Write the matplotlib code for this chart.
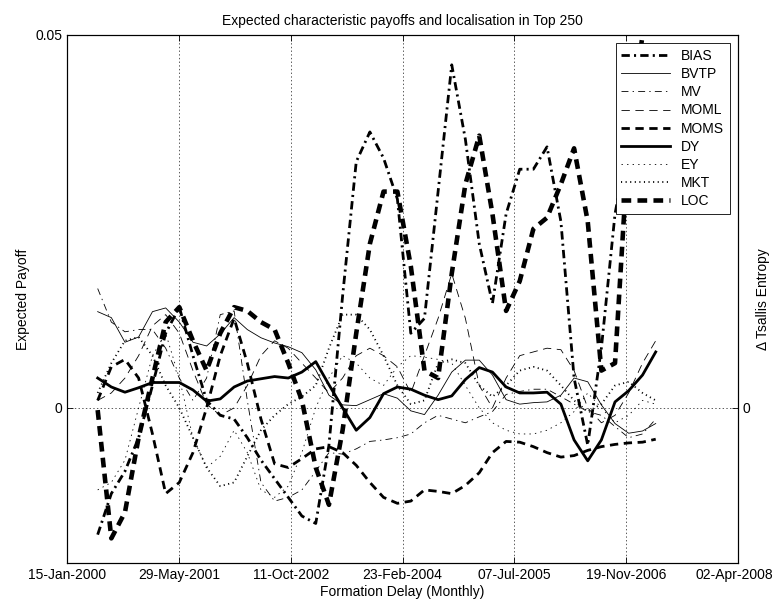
import datetime as dt
import numpy as np
import pandas as pd
import matplotlib
matplotlib.use("Agg")
import matplotlib.pyplot as plt
import matplotlib.dates as mdates
import matplotlib.transforms as mtransforms

plt.rcParams['font.family'] = ['Liberation Sans', 'DejaVu Sans']
plt.rcParams['lines.scale_dashes'] = False

# bimonthly formation dates, May 2000 .. Mar 2007
dates = pd.date_range("2000-05-31", periods=42, freq="2ME")

bias = [-0.0170, -0.0115, -0.0085, -0.0040, 0.0030, 0.0100, 0.0135, 0.0070, 0.0010, -0.0010,
        -0.0015, -0.0040, -0.0070, -0.0095, -0.0120, -0.0145, -0.0155, -0.0050, 0.0150, 0.0330,
        0.0370, 0.0335, 0.0280, 0.0100, 0.0120, 0.0290, 0.0460, 0.0360, 0.0220, 0.0140,
        0.0260, 0.0320, 0.0320, 0.0350, 0.0250, 0.0040, -0.0050, 0.0080, 0.0260, 0.0360,
        0.0400, 0.0380]
bvtp = [0.0129, 0.0121, 0.0088, 0.0095, 0.0129, 0.0134, 0.0115, 0.0088, 0.0083, 0.0099,
        0.0121, 0.0105, 0.0094, 0.0087, 0.0082, 0.0074, 0.0051, 0.0017, 0.0004, 0.0003,
        0.0011, 0.0019, 0.0013, -0.0004, -0.0009, 0.0017, 0.0048, 0.0064, 0.0064, 0.0044,
        0.0011, 0.0005, 0.0007, 0.0008, 0.0017, 0.0040, 0.0035, 0.0004, -0.0021, -0.0034,
        -0.0031, -0.0021]
mv = [0.0160, 0.0115, 0.0102, 0.0105, 0.0105, 0.0080, 0.0040, 0.0010, 0.0040, 0.0125,
      0.0130, 0.0010, -0.0100, -0.0125, -0.0120, -0.0110, -0.0085, -0.0060, -0.0062, -0.0055,
      -0.0045, -0.0043, -0.0040, -0.0035, -0.0020, -0.0010, -0.0015, -0.0020, -0.0012, -0.0005,
      0.0018, 0.0022, 0.0025, 0.0025, 0.0015, 0.0005, -0.0005, -0.0010, -0.0025, -0.0040,
      -0.0035, -0.0015]
moml = [0.0010, 0.0020, 0.0040, 0.0070, 0.0110, 0.0125, 0.0100, 0.0050, 0.0005, -0.0010,
        0.0000, 0.0030, 0.0070, 0.0090, 0.0080, 0.0060, 0.0040, 0.0020, 0.0040, 0.0070,
        0.0080, 0.0070, 0.0055, 0.0020, 0.0070, 0.0120, 0.0180, 0.0120, 0.0030, 0.0000,
        0.0040, 0.0070, 0.0075, 0.0080, 0.0078, 0.0050, 0.0000, -0.0020, -0.0010, 0.0020,
        0.0060, 0.0090]
moms = [0.0010, 0.0055, 0.0065, 0.0040, -0.0035, -0.0115, -0.0100, -0.0060, 0.0000, 0.0070,
        0.0120, 0.0060, -0.0015, -0.0075, -0.0080, -0.0068, -0.0055, -0.0052, -0.0060, -0.0077,
        -0.0100, -0.0120, -0.0128, -0.0125, -0.0110, -0.0112, -0.0115, -0.0104, -0.0087, -0.0060,
        -0.0045, -0.0046, -0.0052, -0.0060, -0.0066, -0.0064, -0.0057, -0.0052, -0.0049, -0.0047,
        -0.0046, -0.0042]
dy = [0.0040, 0.0028, 0.0021, 0.0027, 0.0034, 0.0034, 0.0034, 0.0024, 0.0009, 0.0012,
      0.0028, 0.0036, 0.0039, 0.0042, 0.0040, 0.0048, 0.0062, 0.0031, 0.0000, -0.0030,
      -0.0013, 0.0019, 0.0028, 0.0025, 0.0017, 0.0011, 0.0016, 0.0038, 0.0054, 0.0048,
      0.0028, 0.0020, 0.0020, 0.0021, 0.0005, -0.0043, -0.0071, -0.0043, 0.0008, 0.0023,
      0.0044, 0.0075]
ey = [-0.0110, -0.0100, -0.0070, 0.0000, 0.0070, 0.0100, 0.0040, -0.0040, -0.0080, -0.0065,
      -0.0030, -0.0060, -0.0110, -0.0120, -0.0105, -0.0060, 0.0000, 0.0040, 0.0070, 0.0060,
      0.0040, 0.0030, 0.0055, 0.0070, 0.0068, 0.0065, 0.0060, 0.0030, 0.0000, -0.0020,
      -0.0030, -0.0035, -0.0035, -0.0030, -0.0020, -0.0005, 0.0020, 0.0000, -0.0020, -0.0010,
      0.0010, 0.0005]
mkt = [0.0020, 0.0060, 0.0090, 0.0095, 0.0070, 0.0030, 0.0000, -0.0040, -0.0080, -0.0105,
       -0.0100, -0.0065, -0.0030, -0.0010, 0.0005, 0.0015, 0.0030, 0.0080, 0.0125, 0.0125,
       0.0105, 0.0070, 0.0030, 0.0005, 0.0010, 0.0060, 0.0065, 0.0060, 0.0030, 0.0015,
       0.0030, 0.0050, 0.0055, 0.0050, 0.0030, 0.0010, -0.0005, 0.0005, 0.0030, 0.0035,
       0.0020, 0.0010]
loc = [-0.0003, -0.0175, -0.0140, -0.0040, 0.0040, 0.0115, 0.0135, 0.0090, 0.0050, 0.0100,
       0.0135, 0.0130, 0.0115, 0.0105, 0.0060, 0.0010, -0.0080, -0.0130, -0.0030, 0.0100,
       0.0220, 0.0290, 0.0290, 0.0190, 0.0050, 0.0040, 0.0180, 0.0300, 0.0365, 0.0260,
       0.0130, 0.0170, 0.0240, 0.0255, 0.0300, 0.0348, 0.0250, 0.0050, 0.0060, 0.0360,
       0.0500, 0.0600]

series = [
    ("BIAS", bias, 2.0, (0, (6, 3, 1.5, 3))),
    ("BVTP", bvtp, 0.6, "-"),
    ("MV", mv, 0.6, (0, (5, 3, 1, 3))),
    ("MOML", moml, 0.6, (0, (6, 4))),
    ("MOMS", moms, 2.0, (0, (6, 4))),
    ("DY", dy, 2.0, "-"),
    ("EY", ey, 0.6, (0, (1, 3))),
    ("MKT", mkt, 1.3, (0, (0.8, 2.5))),
    ("LOC", loc, 3.3, (0, (7, 4.5))),
]

tick_dates = [dt.datetime(2000, 1, 15) + dt.timedelta(days=500 * i) for i in range(7)]

fig = plt.figure(figsize=(7.75, 6.02), dpi=100)
ax = fig.add_axes([0.0865, 0.0648, 0.8658, 0.8771])

for name, vals, lw, ls in series:
    ax.plot(dates, vals, color="black", lw=lw, linestyle=ls, label=name)

ax.set_xlim(tick_dates[0], tick_dates[-1])
ax.set_ylim(-0.0208, 0.05)
ax.set_xticks(tick_dates)
ax.xaxis.set_major_formatter(mdates.DateFormatter("%d-%b-%Y"))
ax.set_yticks([0, 0.05])
ax.set_yticklabels(["0", "0.05"])
ax.tick_params(direction="in", top=True, labelsize=10, length=4, width=0.6)
ax.grid(True, linestyle=":", color="0.35", lw=0.7)
for s in ax.spines.values():
    s.set_linewidth(0.8)

# keep the last date label inside the canvas
last = ax.get_xticklabels()[-1]
last.set_transform(last.get_transform() + mtransforms.ScaledTranslation(-4 / 100, 0, fig.dpi_scale_trans))

ax.set_xlabel("Formation Delay (Monthly)", fontsize=10, labelpad=2)
ax.set_ylabel("Expected Payoff", fontsize=10)
ax.set_title("Expected characteristic payoffs and localisation in Top 250", fontsize=10, pad=7)

ax2 = ax.twinx()
ax2.set_ylim(ax.get_ylim())
ax2.set_yticks([0])
ax2.set_yticklabels(["0"])
ax2.tick_params(direction="in", labelsize=10, length=4, width=0.6)
ax2.set_ylabel("\u0394 Tsallis Entropy", fontsize=10)

leg = ax.legend(loc="upper right", fontsize=10, handlelength=3.5, labelspacing=0.3,
                fancybox=False, framealpha=1, edgecolor="black", borderaxespad=0.6)
leg.get_frame().set_linewidth(0.6)

fig.savefig("out.png", dpi=100)
